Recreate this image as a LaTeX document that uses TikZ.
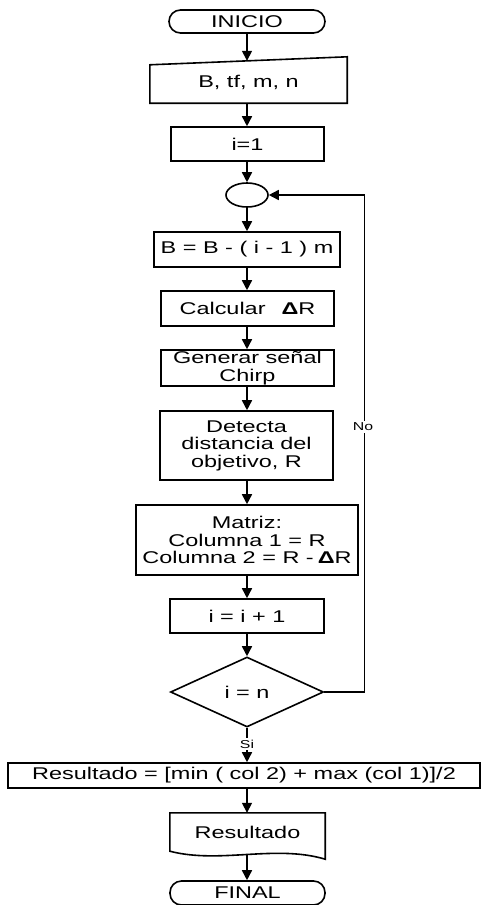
\documentclass[tikz,border=0pt]{standalone}
\usepackage{fontspec}
\setmainfont[FakeStretch=1.38]{Liberation Sans}
\usetikzlibrary{shapes.geometric,arrows.meta,calc}
\begin{document}
\begin{tikzpicture}[x=1pt,y=-1pt,
 every node/.style={font=\fontsize{17pt}{17.5pt}\selectfont, inner sep=0pt, align=center},
 base/.style={draw, line width=1.6pt},
 proc/.style={base, rectangle},
 term/.style={base, rectangle, rounded corners=11.5pt},
 arr/.style={line width=1.6pt, -{Triangle[length=10pt,width=10pt]}},
 lbl/.style={fill=white, font=\fontsize{11.5pt}{13pt}\selectfont, inner sep=1.5pt}]
\useasboundingbox (0,0) rectangle (482,905);
\node[term, minimum width=156, minimum height=23] (start) at (247,21.5) {INICIO};
\node[minimum width=197, minimum height=42] (inp) at (248.5,82) {B, tf, m, n};
\draw[base] ($(inp.north west)+(0,4)$) -- ($(inp.north east)+(0,-4)$) -- (inp.south east) -- (inp.south west) -- cycle;
\node[proc, minimum width=153, minimum height=34] (i1) at (247.5,144) {i=1};
\node[base, ellipse, minimum width=42, minimum height=24] (conn) at (247,195) {};
\node[proc, minimum width=186, minimum height=35] (bb) at (247,249.5) {B = B - ( i - 1 ) m};
\node[proc, minimum width=173, minimum height=35] (calc) at (247.5,308.5) {Calcular\hspace{16pt}\textbf{Δ}R};
\node[proc, minimum width=173, minimum height=36] (gen) at (247.5,368) {Generar señal\\Chirp};
\node[proc, minimum width=173, minimum height=69] (det) at (246.5,445.5) {Detecta\\distancia del\\objetivo, R};
\node[proc, minimum width=222, minimum height=70] (mat) at (247,540) {Matriz:\\Columna 1 = R\\Columna 2 = R -\hspace{4pt}\textbf{Δ}R};
\node[proc, minimum width=154, minimum height=34] (inc) at (247,616) {i = i + 1};
\node[base, diamond, minimum width=153, minimum height=70] (dia) at (247,692) {i = n};
\node[proc, minimum width=472, minimum height=25] (res) at (244,775.5) {Resultado = [min ( col 2) + max (col 1)]/2};
\node[minimum width=155, minimum height=38] (doc) at (247.5,832) {Resultado};
\draw[base] (doc.south west) -- (doc.north west) -- (doc.north east) -- ($(doc.south east)+(0,8)$)
  .. controls ($(doc.south east)+(-50,-7)$) and ($(doc.south west)+(50,13)$) .. (doc.south west) -- cycle;
\coordinate (docbot) at ($(doc.south)+(-0.5,3)$);
\node[term, minimum width=155, minimum height=24] (fin) at (247.5,893) {FINAL};
% connectors
\draw[arr] (start.south) -- (start.south |- inp.north);
\draw[arr] (inp.south -| start.south) -- (start.south |- i1.north);
\draw[arr] (i1.south -| conn.south) -- (conn.north);
\draw[arr] (conn.south) -- (conn.south |- bb.north);
\draw[arr] (bb.south -| conn.south) -- (conn.south |- calc.north);
\draw[arr] (calc.south -| conn.south) -- (conn.south |- gen.north);
\draw[arr] (gen.south -| conn.south) -- (conn.south |- det.north);
\draw[arr] (det.south -| conn.south) -- (conn.south |- mat.north);
\draw[arr] (mat.south -| conn.south) -- (conn.south |- inc.north);
\draw[arr] (inc.south -| conn.south) -- (dia.north);
\draw[arr] (dia.south) -- (dia.south |- res.north);
\node[lbl] (si) at (247,744) {Si};
\draw[arr] (res.south -| dia.south) -- (dia.south |- doc.north);
\draw[arr] (docbot) -- (docbot |- fin.north);
\draw[arr] (dia.east) -- ++(40,0) |- (conn.east);
\node[lbl] (no) at (363,427) {No};
\end{tikzpicture}
\end{document}
